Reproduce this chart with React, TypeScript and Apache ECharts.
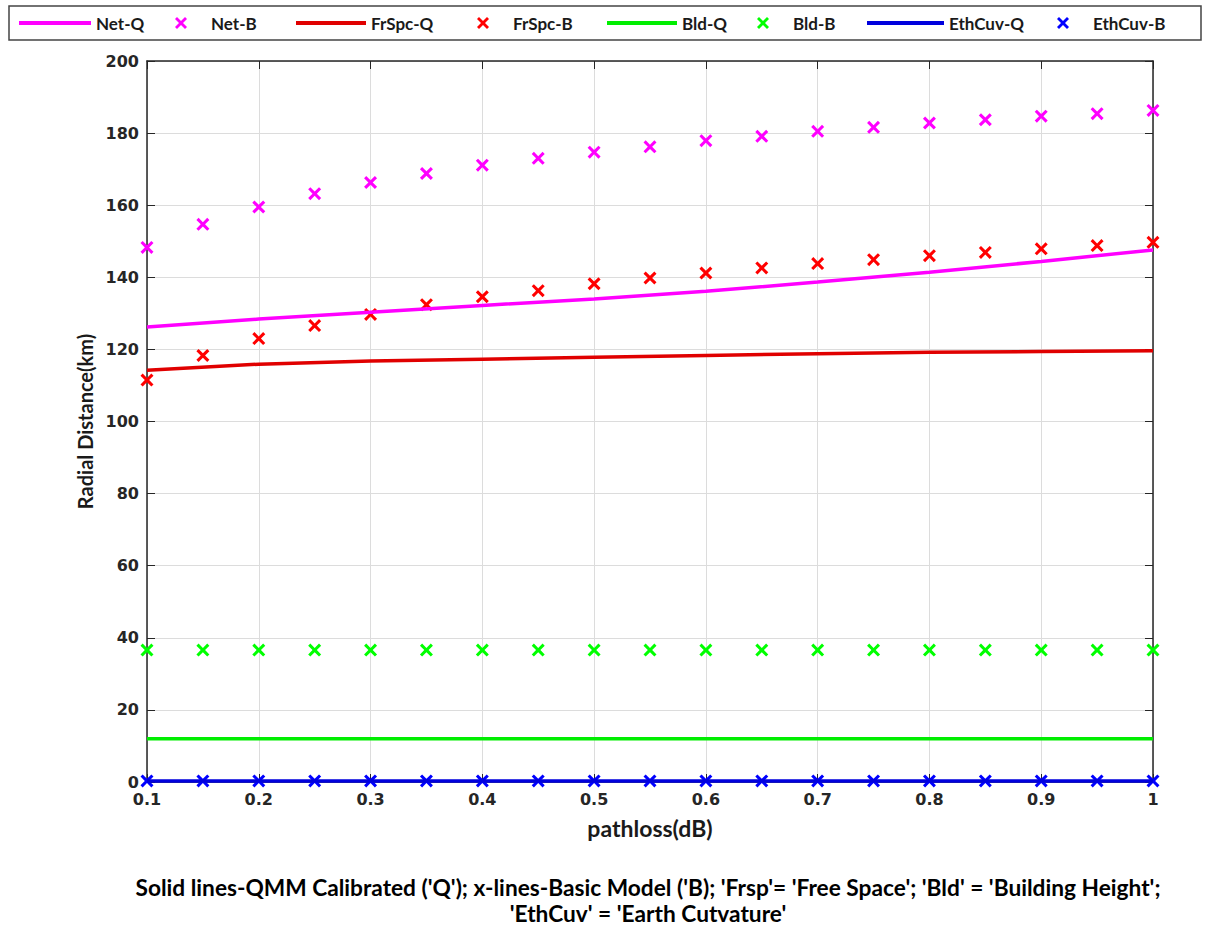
import React, { useEffect, useRef } from "react";
import * as echarts from "echarts";

// ---- data ----
const xB = [0.1, 0.15, 0.2, 0.25, 0.3, 0.35, 0.4, 0.45, 0.5, 0.55, 0.6, 0.65, 0.7, 0.75, 0.8, 0.85, 0.9, 0.95, 1.0];
const xQ = [0.1, 0.2, 0.3, 0.4, 0.5, 0.6, 0.7, 0.8, 0.9, 1.0];

const netQ = [126.2, 128.4, 130.3, 132.2, 134.0, 136.1, 138.7, 141.4, 144.4, 147.6];
const netB = [148.3, 154.7, 159.5, 163.2, 166.3, 168.8, 171.1, 173.0, 174.7, 176.2, 177.9, 179.1, 180.5, 181.6, 182.8, 183.7, 184.7, 185.4, 186.3];
const frspcQ = [114.2, 115.9, 116.8, 117.3, 117.8, 118.3, 118.8, 119.2, 119.4, 119.6];
const frspcB = [111.5, 118.3, 123.0, 126.6, 129.7, 132.4, 134.6, 136.3, 138.2, 139.8, 141.2, 142.6, 143.8, 144.9, 146.0, 146.9, 147.9, 148.8, 149.7];
const bldQ = [12, 12, 12, 12, 12, 12, 12, 12, 12, 12];
const bldB = [36.6, 36.6, 36.6, 36.6, 36.6, 36.6, 36.6, 36.6, 36.6, 36.6, 36.6, 36.6, 36.6, 36.6, 36.6, 36.6, 36.6, 36.6, 36.6];
const ethQ = [0.3, 0.3, 0.3, 0.3, 0.3, 0.3, 0.3, 0.3, 0.3, 0.3];
const ethB = [0.3, 0.3, 0.3, 0.3, 0.3, 0.3, 0.3, 0.3, 0.3, 0.3, 0.3, 0.3, 0.3, 0.3, 0.3, 0.3, 0.3, 0.3, 0.3];

const seriesNames = ["Net-Q", "Net-B", "FrSpc-Q", "FrSpc-B", "Bld-Q", "Bld-B", "EthCuv-Q", "EthCuv-B"];
const seriesColors = ["#ff00ff", "#ff00ff", "#e00000", "#ff0000", "#00ee00", "#00ff00", "#0000dd", "#0000ff"];

const xTitle = "pathloss(dB)";
const yTitle = "Radial Distance(km)";
const caption1 = "Solid lines-QMM Calibrated ('Q'); x-lines-Basic Model ('B); 'Frsp'= 'Free Space'; 'Bld' = 'Building Height';";
const caption2 = "'EthCuv' = 'Earth Cutvature'";

const X_SYMBOL = "path://M0,2 L2,0 L6,4 L10,0 L12,2 L8,6 L12,10 L10,12 L6,8 L2,12 L0,10 L4,6 Z";

const pairs = (xs: number[], ys: number[]) => xs.map((x, i) => [x, ys[i]]);

export default function App() {
  const ref = useRef<HTMLDivElement>(null);

  useEffect(() => {
    document.body.style.margin = "0";
    if (!ref.current) return;
    const chart = echarts.init(ref.current, undefined, { renderer: "svg" });

    const axisColor = "#262626";
    const tickFont = { color: axisColor, fontFamily: "DejaVu Sans", fontWeight: "bold" as const, fontSize: 16 };
    const titleFont = { color: "#1a1a1a", fontFamily: "Lato", fontWeight: "bold" as const, fontSize: 20 };
    const gridLine = { show: true, lineStyle: { color: "#dcdcdc", width: 1 } };

    const qData = [netQ, frspcQ, bldQ, ethQ];
    const bData = [netB, frspcB, bldB, ethB];
    const series: any[] = [];
    for (let k = 0; k < 4; k++) {
      series.push({
        name: seriesNames[2 * k],
        type: "line",
        data: pairs(xQ, qData[k]),
        symbol: "none",
        lineStyle: { color: seriesColors[2 * k], width: 3.5 },
        itemStyle: { color: seriesColors[2 * k] },
        xAxisIndex: 0,
        yAxisIndex: 0,
      });
      series.push({
        name: seriesNames[2 * k + 1],
        type: "scatter",
        data: pairs(xB, bData[k]),
        symbol: X_SYMBOL,
        symbolSize: 13,
        itemStyle: { color: seriesColors[2 * k + 1], opacity: 1 },
        xAxisIndex: 0,
        yAxisIndex: 0,
      });
    }

    const legendPos = [
      { left: 19, itemWidth: 72 },
      { left: 175, itemWidth: 50 },
      { left: 296, itemWidth: 70 },
      { left: 477, itemWidth: 50 },
      { left: 607, itemWidth: 70 },
      { left: 757, itemWidth: 50 },
      { left: 867, itemWidth: 77 },
      { left: 1057, itemWidth: 50 },
    ];
    const legends = seriesNames.map((n, i) => {
      const isLine = i % 2 === 0;
      return {
        data: [isLine ? { name: n, icon: "rect" } : { name: n }],
        left: legendPos[i].left,
        top: 13,
        itemWidth: legendPos[i].itemWidth,
        itemHeight: isLine ? 4 : 12,
        itemGap: 0,
        padding: 0,
        selectedMode: false,
        textStyle: { color: "#1a1a1a", fontFamily: "Lato", fontWeight: "bold", fontSize: 17, lineHeight: 20 },
      };
    });

    chart.setOption({
      animation: false,
      backgroundColor: "#ffffff",
      grid: { left: 147, right: 53, top: 61, bottom: 143 },
      legend: legends,
      xAxis: [
        {
          type: "value",
          position: "bottom",
          min: 0.1,
          max: 1,
          interval: 0.1,
          axisLine: { show: true, onZero: false, lineStyle: { color: axisColor, width: 1.5 } },
          axisTick: { show: true, inside: true, length: 8, lineStyle: { color: axisColor } },
          axisLabel: { ...tickFont, margin: 9, formatter: (v: number) => String(Math.round(v * 10) / 10) },
          splitLine: gridLine,
          name: xTitle,
          nameLocation: "middle",
          nameGap: 34,
          nameTextStyle: { ...titleFont, fontSize: 23 },
        },
        {
          type: "value",
          position: "top",
          min: 0.1,
          max: 1,
          interval: 0.1,
          axisLine: { show: true, onZero: false, lineStyle: { color: axisColor, width: 1.5 } },
          axisTick: { show: true, inside: true, length: 8, lineStyle: { color: axisColor } },
          axisLabel: { show: false },
          splitLine: { show: false },
        },
      ],
      yAxis: [
        {
          type: "value",
          position: "left",
          min: 0,
          max: 200,
          interval: 20,
          axisLine: { show: true, onZero: false, lineStyle: { color: axisColor, width: 1.5 } },
          axisTick: { show: true, inside: true, length: 8, lineStyle: { color: axisColor } },
          axisLabel: { ...tickFont, margin: 8 },
          splitLine: gridLine,
          name: yTitle,
          nameLocation: "middle",
          nameGap: 47,
          nameRotate: 90,
          nameTextStyle: titleFont,
        },
        {
          type: "value",
          position: "right",
          min: 0,
          max: 200,
          interval: 20,
          axisLine: { show: true, onZero: false, lineStyle: { color: axisColor, width: 1.5 } },
          axisTick: { show: true, inside: true, length: 8, lineStyle: { color: axisColor } },
          axisLabel: { show: false },
          splitLine: { show: false },
        },
      ],
      series,
      graphic: [
        {
          type: "rect",
          shape: { x: 9, y: 6, width: 1192, height: 34 },
          style: { fill: "none", stroke: "#444444", lineWidth: 1.5 },
          silent: true,
          z: -1,
        },
        {
          type: "text",
          x: 648,
          y: 887,
          style: {
            text: caption1,
            textAlign: "center",
            textVerticalAlign: "middle",
            fontFamily: "Lato",
            fontWeight: "bold",
            fontSize: 22.7,
            fill: "#000000",
          },
        },
        {
          type: "text",
          x: 648,
          y: 913,
          style: {
            text: caption2,
            textAlign: "center",
            textVerticalAlign: "middle",
            fontFamily: "Lato",
            fontWeight: "bold",
            fontSize: 22.7,
            fill: "#000000",
          },
        },
      ],
    });

    return () => chart.dispose();
  }, []);

  return <div ref={ref} style={{ width: 1206, height: 925 }} />;
}
